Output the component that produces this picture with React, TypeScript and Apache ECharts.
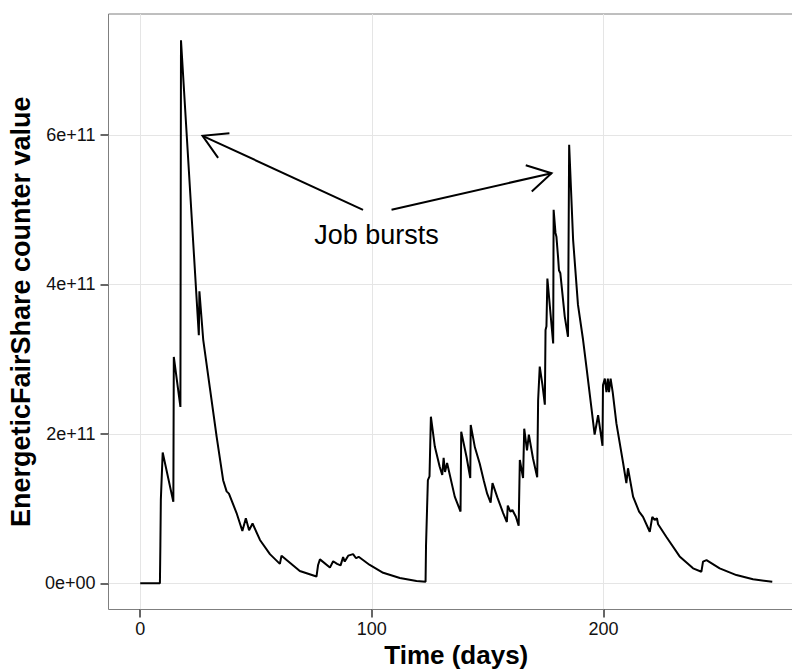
import React, { useEffect, useRef } from "react";
import * as echarts from "echarts";

// Time in days
const days = [
  0, 8.5, 8.7, 8.9, 9.2, 9.7, 14.3, 14.5, 17.35, 17.6, 25.3, 25.55, 27.2, 30.1, 33.0, 35.8, 37.3, 38.3, 41.6,
  44.1, 45.6, 47.0, 48.5, 51.7, 56.0, 60.3, 61.0, 68.9, 76.1, 76.8, 77.6, 81.9, 83.3, 85.0, 86.5, 87.6, 88.3,
  89.8, 91.9, 93.2, 94.3, 99.1, 104.9, 112.1, 119.3, 123.2, 123.4, 124.2, 124.9, 125.5, 127.2, 129.3, 130.4,
  131.0, 131.6, 132.5, 135.8, 138.3, 138.6, 140.9, 142.5, 142.7, 144.5, 146.6, 148.3, 149.8, 151.3, 152.1,
  154.2, 156.7, 158.3, 158.7, 159.8, 160.7, 162.2, 163.4, 163.9, 165.3, 165.8, 167.0, 167.8, 169.6, 171.4,
  171.8, 172.5, 173.7, 174.7, 175.0, 175.4, 175.8, 178.3, 178.5, 179.3, 179.7, 180.4, 180.8, 181.4, 183.3,
  184.7, 185.2, 186.9, 189.0, 191.2, 192.8, 194.8, 196.2, 197.7, 199.6, 199.8, 200.6, 201.3, 201.9, 202.4,
  203.1, 204.0, 205.6, 208.5, 209.9, 210.6, 212.8, 215.4, 217.1, 220.0, 221.1, 222.1, 223.1, 223.6, 227.2,
  232.9, 238.7, 242.3, 243.0, 244.5, 250.2, 257.4, 264.6, 272.9,
];

// EnergeticFairShare counter value, in units of 1e11
const counterE11 = [
  0, 0, 0.51, 1.12, 1.12, 1.75, 1.09, 3.03, 2.36, 7.27, 3.32, 3.91, 3.26, 2.61, 1.96, 1.38, 1.23, 1.2, 0.94,
  0.7, 0.87, 0.71, 0.8, 0.58, 0.39, 0.26, 0.37, 0.165, 0.09, 0.245, 0.32, 0.21, 0.295, 0.26, 0.24, 0.35, 0.29,
  0.37, 0.39, 0.335, 0.355, 0.245, 0.14, 0.07, 0.03, 0.02, 0.51, 1.38, 1.43, 2.23, 1.83, 1.56, 1.45,
  1.68, 1.49, 1.61, 1.16, 0.96, 2.03, 1.69, 1.41, 2.12, 1.82, 1.6, 1.38, 1.2, 1.08, 1.34,
  1.15, 0.94, 0.82, 1.04, 0.96, 0.98, 0.89, 0.77, 1.65, 1.41, 2.07, 1.78, 1.99, 1.67, 1.42,
  2.45, 2.9, 2.65, 2.39, 3.39, 3.44, 4.08, 3.21, 5.0, 4.69, 4.64, 4.37, 4.19, 4.15, 3.57,
  3.3, 5.87, 4.6, 3.73, 3.26, 2.86, 2.35, 1.99, 2.25, 1.84, 2.65, 2.74, 2.56, 2.74, 2.56,
  2.74, 2.56, 2.14, 1.61, 1.34, 1.54, 1.16, 0.96, 0.89, 0.69, 0.89, 0.85, 0.87, 0.79, 0.62,
  0.36, 0.2, 0.155, 0.29, 0.31, 0.2, 0.11, 0.054, 0.02,
];

const SCALE = 1e11;
const xTicks = [0, 100, 200];
const yTicks = [0, 2e11, 4e11, 6e11];

// Annotation arrows: [tailX, tailY, tipX, tipY] in data units
const arrows = [
  [96.2, 5.0e11, 26.9, 5.99e11],
  [108.5, 5.0e11, 177.6, 5.49e11],
];
const annotationText = "Job bursts";
const annotationPos = [102, 4.66e11];

const FONT = "'Liberation Sans', Arial, Helvetica, sans-serif";

export default function App() {
  const ref = useRef<HTMLDivElement>(null);

  useEffect(() => {
    if (!ref.current) return;
    const chart = echarts.init(ref.current, null, { renderer: "svg" });
    const lineData = days.map((d, i) => [d, counterE11[i] * SCALE]);

    chart.setOption({
      animation: false,
      backgroundColor: "#ffffff",
      grid: {
        left: 108.5,
        top: 14,
        right: 8,
        bottom: 59.5,
        show: true,
        borderColor: "#7f7f7f",
        borderWidth: 1,
        backgroundColor: "transparent",
        containLabel: false,
        outerBoundsMode: "none",
      },
      xAxis: {
        type: "value",
        min: -13.7,
        max: 286.6,
        name: "Time (days)",
        nameLocation: "middle",
        nameGap: 27,
        nameTextStyle: { fontFamily: FONT, fontSize: 26, fontWeight: "bold", color: "#000" },
        axisLine: { show: false, onZero: false },
        axisTick: {
          show: true,
          inside: false,
          length: 8,
          customValues: xTicks,
          lineStyle: { color: "#333", width: 1.5 },
        },
        axisLabel: {
          customValues: xTicks,
          margin: 10,
          fontFamily: FONT,
          fontSize: 18,
          color: "#111",
        },
        splitLine: { show: true, lineStyle: { color: "#e5e5e5", width: 1 } },
      },
      yAxis: {
        type: "value",
        min: -0.351e11,
        max: 7.621e11,
        name: "EnergeticFairShare counter value",
        nameLocation: "middle",
        nameGap: 70,
        nameTextStyle: { fontFamily: FONT, fontSize: 27, fontWeight: "bold", color: "#000" },
        axisLine: { show: false, onZero: false },
        axisTick: {
          show: true,
          inside: false,
          length: 8,
          customValues: yTicks,
          lineStyle: { color: "#333", width: 1.5 },
        },
        axisLabel: {
          customValues: yTicks,
          margin: 13,
          fontFamily: FONT,
          fontSize: 18,
          color: "#111",
          formatter: (v: number) => (v === 0 ? "0e+00" : `${Math.round(v / SCALE)}e+11`),
        },
        splitLine: { show: true, lineStyle: { color: "#e5e5e5", width: 1 } },
      },
      series: [
        {
          type: "line",
          data: lineData,
          showSymbol: false,
          symbol: "none",
          lineStyle: { color: "#000", width: 2 },
          silent: true,
        },
        {
          type: "custom",
          data: arrows,
          encode: { x: [0, 2], y: [1, 3] },
          silent: true,
          renderItem: (_params: any, api: any) => {
            const p1 = api.coord([api.value(0), api.value(1)]);
            const p2 = api.coord([api.value(2), api.value(3)]);
            const ang = Math.atan2(p1[1] - p2[1], p1[0] - p2[0]);
            const L = 27;
            const a = Math.PI / 6;
            const h1 = [p2[0] + L * Math.cos(ang + a), p2[1] + L * Math.sin(ang + a)];
            const h2 = [p2[0] + L * Math.cos(ang - a), p2[1] + L * Math.sin(ang - a)];
            return {
              type: "group",
              children: [
                {
                  type: "line",
                  shape: { x1: p1[0], y1: p1[1], x2: p2[0], y2: p2[1] },
                  style: { stroke: "#000", lineWidth: 2, fill: null },
                },
                {
                  type: "polyline",
                  shape: { points: [h1, p2, h2] },
                  style: { stroke: "#000", lineWidth: 2, fill: null },
                },
              ],
            };
          },
        },
        {
          type: "custom",
          data: [annotationPos],
          encode: { x: 0, y: 1 },
          silent: true,
          renderItem: (_params: any, api: any) => {
            const p = api.coord([api.value(0), api.value(1)]);
            return {
              type: "text",
              x: p[0],
              y: p[1],
              style: {
                text: annotationText,
                fontFamily: FONT,
                fontSize: 27,
                fill: "#000",
                align: "center",
                verticalAlign: "middle",
              },
            };
          },
        },
      ],
    });

    return () => {
      chart.dispose();
    };
  }, []);

  return (
    <div
      style={{
        position: "fixed",
        left: 0,
        top: 0,
        width: 792,
        height: 669,
        overflow: "hidden",
        background: "#fff",
      }}
    >
      <div ref={ref} style={{ width: 812, height: 669 }} />
    </div>
  );
}
